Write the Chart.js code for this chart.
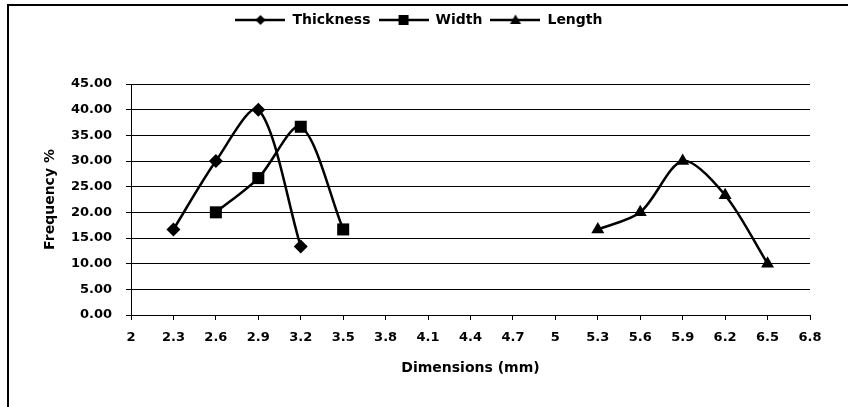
<!DOCTYPE html>
<html>
<head>
<meta charset="utf-8">
<script src="https://cdn.jsdelivr.net/npm/chart.js@4/dist/chart.umd.min.js"></script>
<style>
  html, body { margin: 0; padding: 0; background: #fff; }
  #wrap { width: 848px; height: 407px; position: relative; }
</style>
</head>
<body>
<div id="wrap"><canvas id="c" width="848" height="407"></canvas></div>
<script>
// ---- data ----
const seriesNames = ["Thickness", "Width", "Length"];
const thicknessX = [2.3, 2.6, 2.9, 3.2];
const thicknessY = [16.67, 30.0, 40.0, 13.33];
const widthX = [2.6, 2.9, 3.2, 3.5];
const widthY = [20.0, 26.67, 36.67, 16.67];
const lengthX = [5.3, 5.6, 5.9, 6.2, 6.5];
const lengthY = [16.67, 20.0, 30.0, 23.33, 10.0];
const xTickValues = [2, 2.3, 2.6, 2.9, 3.2, 3.5, 3.8, 4.1, 4.4, 4.7, 5, 5.3, 5.6, 5.9, 6.2, 6.5, 6.8];
const yTickValues = [0, 5, 10, 15, 20, 25, 30, 35, 40, 45];
const xTitle = "Dimensions (mm)";
const yTitle = "Frequency %";

const FONT = "'DejaVu Sans', sans-serif";
const pointStyles = ["rectRot", "rect", "triangle"];
const pointRadii = [7, 8.5, 7.5];

function toXY(xs, ys) { return xs.map((x, i) => ({ x: x, y: ys[i] })); }

function makeIcon(style) {
  const c = document.createElement('canvas');
  c.width = 50; c.height = 16;
  const g = c.getContext('2d');
  g.strokeStyle = '#000'; g.fillStyle = '#000'; g.lineWidth = 2.5;
  g.beginPath(); g.moveTo(0, 8); g.lineTo(50, 8); g.stroke();
  g.beginPath();
  if (style === 'rectRot') {
    g.moveTo(25, 3); g.lineTo(30, 8); g.lineTo(25, 13); g.lineTo(20, 8); g.closePath();
  } else if (style === 'rect') {
    g.rect(20, 3, 10, 10);
  } else {
    g.moveTo(25, 2.5); g.lineTo(30.5, 12); g.lineTo(19.5, 12); g.closePath();
  }
  g.fill();
  return c;
}
const icons = pointStyles.map(makeIcon);

const borderPlugin = {
  id: 'outerBorder',
  beforeInit(chart) {
    const lg = chart.legend;
    if (lg) {
      const orig = lg.fit;
      lg.fit = function () { orig.call(this); this.height = 79; };
    }
  },
  afterLayout(chart) {
    const lg = chart.legend;
    if (lg) { lg.left += 10; lg.right += 10; }
  },
  afterDraw(chart) {
    const ctx = chart.ctx;
    ctx.save();
    ctx.strokeStyle = '#000';
    ctx.lineWidth = 2;
    ctx.beginPath();
    ctx.moveTo(8, 407); ctx.lineTo(8, 5); ctx.lineTo(848, 5);
    ctx.stroke();
    ctx.restore();
  }
};

const datasets = [
  { label: seriesNames[0], data: toXY(thicknessX, thicknessY) },
  { label: seriesNames[1], data: toXY(widthX, widthY) },
  { label: seriesNames[2], data: toXY(lengthX, lengthY) }
].map((d, i) => Object.assign(d, {
  borderColor: '#000',
  backgroundColor: '#000',
  borderWidth: 2.5,
  tension: 0.3,
  pointStyle: pointStyles[i],
  pointRadius: pointRadii[i],
  pointBackgroundColor: '#000',
  pointBorderColor: '#000',
  pointBorderWidth: 0,
  fill: false
}));

new Chart(document.getElementById('c'), {
  type: 'line',
  data: { datasets: datasets },
  plugins: [borderPlugin],
  options: {
    responsive: false,
    animation: false,
    layout: { padding: { top: 5, left: 8, right: 38, bottom: 0 } },
    plugins: {
      tooltip: { enabled: false },
      legend: {
        position: 'top',
        labels: {
          usePointStyle: true,
          pointStyleWidth: 50,
          boxHeight: 14,
          padding: 8,
          color: '#000',
          font: { family: FONT, size: 14, weight: 'bold' },
          generateLabels(chart) {
            return chart.data.datasets.map((ds, i) => ({
              text: ds.label, pointStyle: icons[i], fillStyle: '#000',
              strokeStyle: '#000', lineWidth: 0, datasetIndex: i, hidden: false, fontColor: '#000'
            }));
          }
        }
      }
    },
    scales: {
      x: {
        type: 'linear',
        min: xTickValues[0],
        max: xTickValues[xTickValues.length - 1],
        afterBuildTicks(scale) { scale.ticks = xTickValues.map(v => ({ value: v })); },
        afterFit(scale) { scale.height = 92; },
        grid: { drawOnChartArea: false, drawTicks: true, tickLength: 5, color: '#000', lineWidth: 1 },
        border: { display: true, color: '#000', width: 1 },
        ticks: {
          color: '#000', padding: 10, maxRotation: 0, autoSkip: false,
          font: { family: FONT, size: 13, weight: 'bold' },
          callback: v => String(v)
        },
        title: {
          display: true, text: xTitle, color: '#000',
          font: { family: FONT, size: 14, weight: 'bold' },
          padding: { top: 30, bottom: 30 }
        }
      },
      y: {
        type: 'linear',
        min: yTickValues[0],
        max: yTickValues[yTickValues.length - 1],
        afterBuildTicks(scale) { scale.ticks = yTickValues.map(v => ({ value: v })); },
        afterFit(scale) { scale.width = 123; },
        grid: { drawOnChartArea: true, drawTicks: true, tickLength: 5, color: '#000', lineWidth: 1 },
        border: { display: true, color: '#000', width: 1 },
        ticks: {
          color: '#000', padding: 14,
          font: { family: FONT, size: 13, weight: 'bold' },
          callback: v => Number(v).toFixed(2)
        },
        title: {
          display: true, text: yTitle, color: '#000',
          font: { family: FONT, size: 14, weight: 'bold' },
          padding: { top: 34, bottom: 34 }
        }
      }
    }
  }
});
</script>
</body>
</html>
